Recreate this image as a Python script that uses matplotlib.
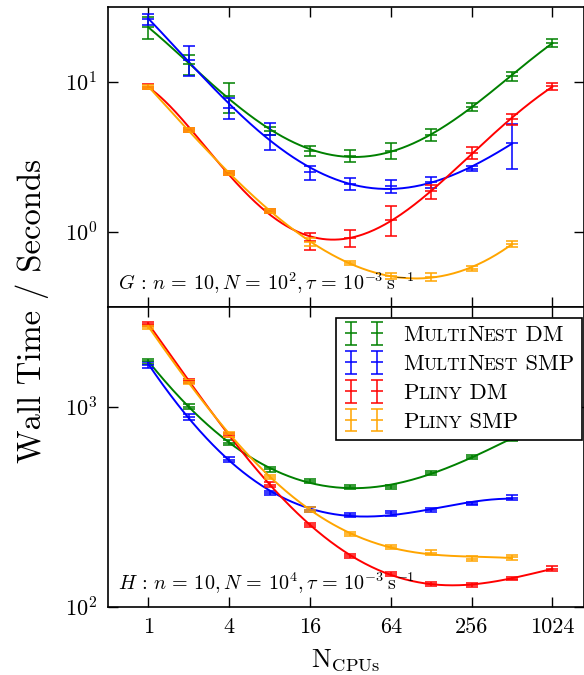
import numpy as np
import matplotlib
matplotlib.use("Agg")
import matplotlib.pyplot as plt
from matplotlib.offsetbox import HPacker, TextArea

plt.rcParams['font.family'] = 'serif'
plt.rcParams['font.serif'] = ['cmr10']
plt.rcParams['mathtext.fontset'] = 'cm'
plt.rcParams['axes.formatter.use_mathtext'] = True

# CPU counts used in the scaling runs
ncpu = np.array([1, 2, 4, 8, 16, 32, 64, 128, 256, 512, 1024])

# G: n=10, N=1e2  (wall time in seconds)
mn_dm_g = [23.0, 13.0, 8.0, 4.7, 3.45, 3.2, 3.45, 4.4, 6.8, 10.9, 18.1]
mn_dm_g_err = [3.8, 2.0, 1.8, 0.3, 0.25, 0.3, 0.42, 0.4, 0.4, 0.75, 1.0]
mn_smp_g = [26.0, 14.0, 6.7, 4.4, 2.48, 2.08, 2.0, 2.13, 2.62, 3.9]
mn_smp_g_err = [2.2, 3.2, 1.1, 0.9, 0.27, 0.2, 0.2, 0.19, 0.1, 1.3]
pl_dm_g = [9.26, 4.76, 2.45, 1.37, 0.865, 0.91, 1.2, 1.85, 3.35, 5.6, 9.3]
pl_dm_g_err = [0.3, 0.15, 0.08, 0.05, 0.11, 0.12, 0.27, 0.2, 0.33, 0.5, 0.5]
pl_smp_g = [9.2, 4.75, 2.45, 1.37, 0.85, 0.615, 0.505, 0.5, 0.565, 0.83]
pl_smp_g_err = [0.3, 0.15, 0.08, 0.05, 0.05, 0.02, 0.02, 0.03, 0.02, 0.04]

# H: n=10, N=1e4
mn_dm_h = [1680, 1000, 659, 486, 423, 394, 396, 465, 560, 690, 870]
mn_dm_h_err = [50, 30, 20, 14, 10, 9, 9, 10, 14, 16, 20]
mn_smp_h = [1614, 889, 543, 370, 305, 288, 292, 305, 327, 349]
mn_smp_h_err = [50, 30, 16, 10, 8, 7, 8, 7, 7, 10]
pl_dm_h = [2588, 1343, 720, 407, 257, 178, 145, 130, 128.5, 138, 154.5]
pl_dm_h_err = [60, 30, 18, 10, 6, 4, 3, 3, 3, 3, 4]
pl_smp_h = [2494, 1331, 726, 445, 305, 231, 198, 186, 173, 176]
pl_smp_h_err = [60, 30, 20, 12, 8, 6, 5, 5, 5, 5]

colors = ['green', 'blue', 'red', 'orange']
labels = ['MultiNest DM', 'MultiNest SMP', 'Pliny DM', 'Pliny SMP']
# pieces of each label: (text, small caps?)
label_parts = [
    [('M', False), ('ULTI', True), ('N', False), ('EST', True), (' DM', False)],
    [('M', False), ('ULTI', True), ('N', False), ('EST', True), (' SMP', False)],
    [('P', False), ('LINY', True), (' DM', False)],
    [('P', False), ('LINY', True), (' SMP', False)],
]


def fit_curve(x, y, deg=4):
    lx = np.log2(x)
    ly = np.log10(y)
    c = np.polyfit(lx, ly, deg)
    xs = np.linspace(lx.min(), lx.max(), 300)
    return 2 ** xs, 10 ** np.polyval(c, xs)


fig = plt.figure(figsize=(5.84, 6.75), dpi=100)
left, right = 108 / 584, 583.5 / 584
ax1 = fig.add_axes([left, 1 - 306.5 / 675, right - left, 300 / 675])
ax2 = fig.add_axes([left, 1 - 606.5 / 675, right - left, 300 / 675], sharex=ax1)

panels = [
    (ax1, [(mn_dm_g, mn_dm_g_err), (mn_smp_g, mn_smp_g_err),
           (pl_dm_g, pl_dm_g_err), (pl_smp_g, pl_smp_g_err)],
     [4, 4, 5, 4],
     r'$G\,:\,n\,=\,10, N\,=\,10^2, \tau\,=\,10^{-3}\,\mathrm{s}^{-1}$',
     (10 ** -0.5, 10 ** 1.5)),
    (ax2, [(mn_dm_h, mn_dm_h_err), (mn_smp_h, mn_smp_h_err),
           (pl_dm_h, pl_dm_h_err), (pl_smp_h, pl_smp_h_err)],
     [4, 4, 4, 4],
     r'$H\,:\,n\,=\,10, N\,=\,10^4, \tau\,=\,10^{-3}\,\mathrm{s}^{-1}$',
     (100, 10 ** 3.5)),
]

handles = []
for ax, series, degs, note, ylim in panels:
    for (vals, err), col, lab, deg in zip(series, colors, labels, degs):
        x = ncpu[:len(vals)]
        h = ax.errorbar(x, vals, yerr=err, fmt='_', color=col, ms=9, mew=1.3,
                        elinewidth=1.3, capsize=4, capthick=1.3, alpha=0.85,
                        label=lab)
        fx, fy = fit_curve(x, np.array(vals), deg)
        ax.plot(fx, fy, color=col, lw=1.4)
        if ax is ax2:
            handles.append(h)
    ax.set_xscale('log', base=2)
    ax.set_yscale('log')
    ax.set_ylim(*ylim)
    ax.text(0.02, 0.035, note, transform=ax.transAxes, fontsize=14.5,
            ha='left', va='bottom')
    ax.tick_params(which='major', direction='in', length=7, width=1,
                   top=True, right=True, labelsize=16, pad=8)
    ax.tick_params(which='minor', length=0)
    for s in ax.spines.values():
        s.set_linewidth(1.2)

ax1.set_xlim(0.5, 2 ** 10.77)
ax1.set_xticks([1, 4, 16, 64, 256, 1024])
ax1.set_xticklabels(['1', '4', '16', '64', '256', '1024'])
ax1.tick_params(labelbottom=False)
ax1.set_yticks([1, 10])
ax2.set_yticks([100, 1000])
ax2.set_xlabel(r'$\mathrm{N}_{\mathrm{CPUs}}$', fontsize=19, labelpad=7)
fig.text(0.055, 0.54, 'Wall Time / Seconds', rotation=90, fontsize=23.5,
         ha='center', va='center')

leg = ax2.legend(handles=handles, loc='upper right', numpoints=2,
                 bbox_to_anchor=(0.997, 0.963), borderaxespad=0,
                 fontsize=16.3, handlelength=1.75, handletextpad=0.85,
                 labelspacing=0.4, fancybox=False, framealpha=1,
                 edgecolor='black', borderpad=0.35)
leg.get_frame().set_linewidth(1.2)

# swap plain labels for small-caps versions
row = 0
for col in leg._legend_handle_box.get_children():
    for item in col.get_children():
        parts = []
        for txt, small in label_parts[row]:
            parts.append(TextArea(txt, textprops=dict(fontsize=12.6 if small else 16.3)))
        box = HPacker(children=parts, align='baseline', pad=0, sep=0)
        box.set_figure(fig)
        item.get_children()[1] = box
        row += 1

fig.savefig('out.png', dpi=100)
